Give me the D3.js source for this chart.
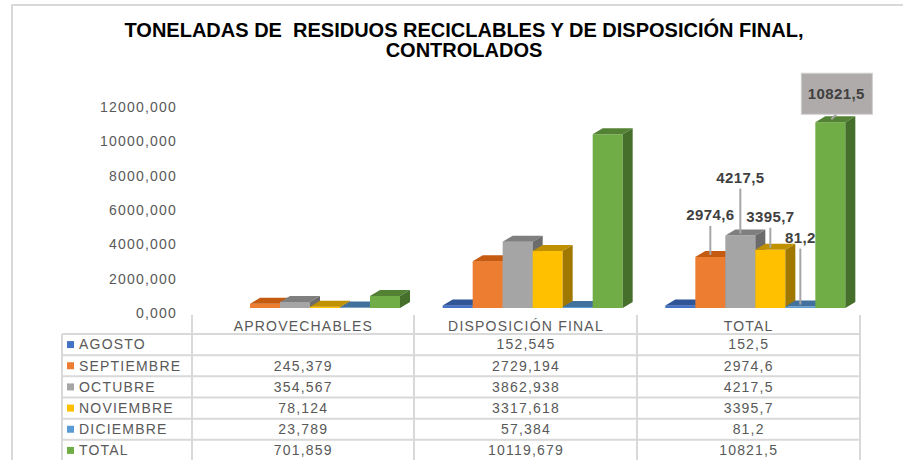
<!DOCTYPE html>
<html>
<head>
<meta charset="utf-8">
<script src="https://cdn.jsdelivr.net/npm/d3@7"></script>
<style>
  body { margin: 0; background: #fff; }
  svg text { font-family: "Liberation Sans", Arial, sans-serif; }
</style>
</head>
<body>
<div id="chart"></div>
<script>
// categories (table columns) and series (months)
const categories = ['APROVECHABLES', 'DISPOSICIÓN FINAL', 'TOTAL'];
const months = ['AGOSTO', 'SEPTIEMBRE', 'OCTUBRE', 'NOVIEMBRE', 'DICIEMBRE', 'TOTAL'];

// toneladas per category, one entry per month
const aprovechables = [null, 245.379, 354.567, 78.124, 23.789, 701.859];
const disposicionFinal = [152.545, 2729.194, 3862.938, 3317.618, 57.384, 10119.679];
const totales = [152.5, 2974.6, 4217.5, 3395.7, 81.2, 10821.5];

const yTicks = [0, 2000, 4000, 6000, 8000, 10000, 12000];

// which total bars carry a label (Excel placed them by hand)
const labelled = [false, true, true, true, true, true];

const width = 903, height = 460;

const colors = {
    front: ['#4472C4', '#ED7D31', '#A5A5A5', '#FFC000', '#5B9BD5', '#70AD47'],
    top:   ['#2F5597', '#C55A11', '#7F7F7F', '#BF9000', '#41719C', '#548235'],
    side:  ['#203864', '#A44A10', '#6B6B6B', '#A07800', '#36628C', '#456F2B']
};
const depth = {dx: 10, dy: -6};
const labelGap = [0, 42, 58, 33, 69, 0];   // px between bar top and label (manual placement)

const es = d3.formatLocale({decimal: ',', thousands: '.', grouping: [3], currency: ['', '']});
const f3 = es.format('.3f');
const f1 = es.format('.1f');

const table = [
    {name: categories[0], values: aprovechables, fmt: f3},
    {name: categories[1], values: disposicionFinal, fmt: f3},
    {name: categories[2], values: totales, fmt: f1}
];

const svg = d3.select('#chart').append('svg')
    .attr('width', width)
    .attr('height', height);

svg.append('rect').attr('width', width).attr('height', height).attr('fill', '#fff');

// outer frame (only top / left show in the crop)
svg.append('path')
    .attr('d', `M12,${height} V5 H${width}`)
    .attr('fill', 'none')
    .attr('stroke', '#D9D9D9')
    .attr('stroke-width', 2);

// title
const title = svg.append('text')
    .attr('text-anchor', 'middle')
    .attr('font-size', 20)
    .attr('font-weight', 'bold')
    .attr('fill', '#000')
    .style('white-space', 'pre');
title.append('tspan').attr('x', 464).attr('y', 37).text('TONELADAS DE  RESIDUOS RECICLABLES Y DE DISPOSICIÓN FINAL,');
title.append('tspan').attr('x', 464).attr('y', 57).text('CONTROLADOS');

// scales
const x = d3.scaleBand().domain(categories).range([192, 860]);
const xm = d3.scaleBand().domain(months).range([28, 208]);
const y = d3.scaleLinear().domain([0, 12000]).range([308, 102]);

// y axis labels (back wall sits a bit lower than the bar fronts)
const yAxis = svg.append('g')
    .attr('transform', 'translate(177,5)')
    .call(d3.axisLeft(y).tickValues(yTicks).tickSize(0).tickPadding(0).tickFormat(f3));
yAxis.select('.domain').remove();
yAxis.selectAll('text')
    .attr('font-size', 14)
    .attr('letter-spacing', 1.2)
    .attr('fill', '#595959')
    .attr('font-family', '"Liberation Sans", Arial, sans-serif');

// 3D bars
const bars = [];
table.forEach(col => {
    col.values.forEach((v, i) => {
        if (v == null) return;
        bars.push({cat: col.name, i, v});
    });
});

const bw = xm.bandwidth();
const gBars = svg.append('g');
bars.forEach(b => {
    const x0 = x(b.cat) + xm(months[b.i]);
    const x1 = x0 + bw;
    const yt = y(b.v), yb = y(0);
    const g = gBars.append('g');
    g.append('rect')
        .attr('x', x0).attr('y', yt)
        .attr('width', bw).attr('height', Math.max(0, yb - yt))
        .attr('fill', colors.front[b.i]);
    g.append('path')
        .attr('d', `M${x0},${yt} L${x1},${yt} L${x1 + depth.dx},${yt + depth.dy} L${x0 + depth.dx},${yt + depth.dy} Z`)
        .attr('fill', colors.top[b.i]);
    g.append('path')
        .attr('d', `M${x1},${yt} L${x1 + depth.dx},${yt + depth.dy} L${x1 + depth.dx},${yb + depth.dy} L${x1},${yb} Z`)
        .attr('fill', colors.side[b.i]);
});

// data labels on the TOTAL group
const gLab = svg.append('g');
totales.forEach((v, i) => {
    if (!labelled[i]) return;
    const cx = x('TOTAL') + xm(months[i]) + bw / 2;
    const yt = y(v);
    if (i === months.length - 1) {
        const bx = cx + 6, by = yt - 28;
        gLab.append('line')
            .attr('x1', cx + 1).attr('y1', yt - 3)
            .attr('x2', bx).attr('y2', by + 20)
            .attr('stroke', '#A6A6A6').attr('stroke-width', 2);
        gLab.append('rect')
            .attr('x', bx - 35).attr('y', by - 21)
            .attr('width', 71).attr('height', 41)
            .attr('fill', '#AFABAB')
            .attr('stroke', '#D0CECE');
        gLab.append('text')
            .attr('x', bx).attr('y', by)
            .attr('dy', '0.35em')
            .attr('text-anchor', 'middle')
            .attr('font-size', 15).attr('font-weight', 'bold')
            .attr('letter-spacing', 0.4)
            .attr('fill', '#404040')
            .text(f1(v));
        return;
    }
    const ly = yt - labelGap[i];
    gLab.append('line')
        .attr('x1', cx).attr('y1', ly + 11)
        .attr('x2', cx).attr('y2', yt - 2)
        .attr('stroke', '#A6A6A6').attr('stroke-width', 2);
    gLab.append('text')
        .attr('x', cx).attr('y', ly)
        .attr('dy', '0.35em')
        .attr('text-anchor', 'middle')
        .attr('font-size', 15).attr('font-weight', 'bold')
        .attr('letter-spacing', 0.4)
        .attr('fill', '#404040')
        .text(f1(v));
});

// data table
const rowY = d3.scaleBand().domain(months).range([334, 461]);
const gTab = svg.append('g');
const lineCol = '#D9D9D9';

months.forEach(m => {
    gTab.append('line')
        .attr('x1', 62).attr('x2', 860)
        .attr('y1', rowY(m)).attr('y2', rowY(m))
        .attr('stroke', lineCol).attr('stroke-width', 2);
});
[192, 414, 637, 860].forEach(xx => {
    gTab.append('line')
        .attr('x1', xx).attr('x2', xx)
        .attr('y1', 315).attr('y2', height)
        .attr('stroke', lineCol).attr('stroke-width', 2);
});
gTab.append('line')
    .attr('x1', 62).attr('x2', 62)
    .attr('y1', 334).attr('y2', height)
    .attr('stroke', lineCol).attr('stroke-width', 2);

const txt = sel => sel
    .attr('font-size', 14)
    .attr('letter-spacing', 1.2)
    .attr('fill', '#595959')
    .attr('dy', '0.35em');

categories.forEach(c => {
    gTab.append('text')
        .attr('x', x(c) + x.bandwidth() / 2).attr('y', 326)
        .attr('text-anchor', 'middle')
        .call(txt)
        .text(c);
});

months.forEach((m, i) => {
    const cy = rowY(m) + rowY.bandwidth() / 2;
    gTab.append('rect')
        .attr('x', 67).attr('y', cy - 3.5)
        .attr('width', 7).attr('height', 7)
        .attr('fill', colors.front[i]);
    gTab.append('text')
        .attr('x', 79).attr('y', cy)
        .call(txt)
        .text(m);
    table.forEach(col => {
        const v = col.values[i];
        if (v == null) return;
        gTab.append('text')
            .attr('x', x(col.name) + x.bandwidth() / 2).attr('y', cy)
            .attr('text-anchor', 'middle')
            .call(txt)
            .text(col.fmt(v));
    });
});
</script>
</body>
</html>
